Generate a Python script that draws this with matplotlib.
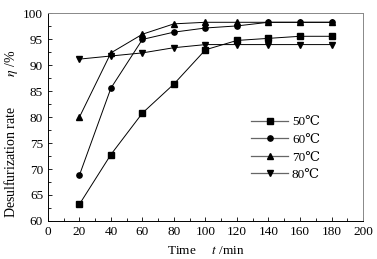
import matplotlib.pyplot as plt
from matplotlib.ticker import MultipleLocator
from matplotlib.lines import Line2D

plt.rcParams['font.family'] = ['Liberation Serif', 'DejaVu Serif']
plt.rcParams['mathtext.fontset'] = 'stix'

time = [20, 40, 60, 80, 100, 120, 140, 160, 180]
t50 = [63.2, 72.8, 80.8, 86.4, 93.0, 94.8, 95.2, 95.6, 95.6]
t60 = [68.8, 85.6, 95.0, 96.4, 97.2, 97.6, 98.3, 98.3, 98.3]
t70 = [80.0, 92.4, 96.0, 98.0, 98.3, 98.3, 98.3, 98.3, 98.3]
t80 = [91.2, 91.8, 92.4, 93.4, 94.0, 94.0, 94.0, 94.0, 94.0]
labels = ['50℃', '60℃', '70℃', '80℃']
markers = ['s', 'o', '^', 'v']

fig, ax = plt.subplots(figsize=(3.77, 2.59), dpi=100)
fig.subplots_adjust(left=0.127, right=0.963, top=0.948, bottom=0.147)

handles = []
for ys, m, lab in zip([t50, t60, t70, t80], markers, labels):
    ax.plot(time, ys, color='black', lw=0.7, marker=m, ms=3.8)
    handles.append(Line2D([], [], color='#666666', lw=0.9, marker=m, ms=3.8,
                          mfc='black', mec='black', label=lab))

ax.set_xlim(0, 200)
ax.set_ylim(60, 100)
ax.xaxis.set_major_locator(MultipleLocator(20))
ax.xaxis.set_minor_locator(MultipleLocator(10))
ax.yaxis.set_major_locator(MultipleLocator(5))
ax.yaxis.set_minor_locator(MultipleLocator(2.5))
ax.tick_params(which='both', direction='in', labelsize=9.5, width=0.6)
ax.tick_params(which='major', length=3)
ax.tick_params(which='minor', length=2)
for s in ['top', 'right']:
    ax.spines[s].set_color('#888888')
for s in ax.spines.values():
    s.set_linewidth(0.7)

ax.set_xlabel('Time     $\\mathit{t}$ /min', fontsize=9.5, labelpad=5)
ax.set_ylabel('Desulfurization rate         $\\mathit{\\eta}$ /%', fontsize=10)
ax.yaxis.set_label_coords(-0.088, 0.42)

ax.legend(handles=handles, loc='upper left', bbox_to_anchor=(0.628, 0.53), frameon=False,
          fontsize=9.5, handlelength=2.8, handletextpad=0.3, labelspacing=0.4,
          borderaxespad=0)

fig.savefig('out.png', dpi=100)
